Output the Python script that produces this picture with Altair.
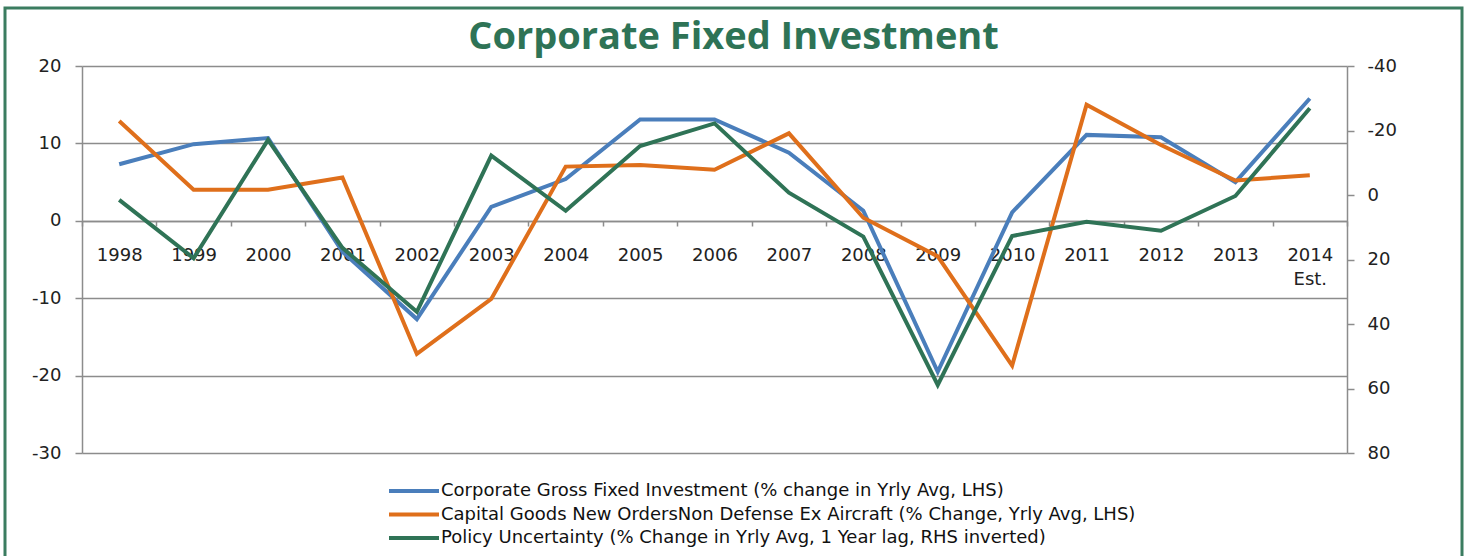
import altair as alt
import pandas as pd

years = [str(y) for y in range(1998, 2015)]
corp_gfi = [7.3, 9.9, 10.7, -4.0, -12.7, 1.8, 5.4, 13.1, 13.1, 8.8, 1.3, -19.5, 1.1, 11.1, 10.8, 5.0, 15.8]
cap_goods = [12.9, 4.0, 4.0, 5.6, -17.2, -10.1, 7.0, 7.2, 6.6, 11.3, 0.4, -4.6, -18.7, 15.0, 9.8, 5.2, 5.9]
policy_unc = [1.5, 19.6, -17.1, 16.4, 36.2, -12.2, 4.9, -15.2, -22.2, -0.7, 12.9, 58.9, 12.7, 8.3, 11.1, 0.3, -26.9]

names = [
    "Corporate Gross Fixed Investment  (% change in Yrly Avg, LHS)",
    "Capital Goods New OrdersNon Defense Ex Aircraft (% Change, Yrly Avg, LHS)",
    "Policy Uncertainty (% Change  in Yrly Avg, 1 Year lag, RHS inverted)",
]
colors = ["#4a7ebb", "#df6f1b", "#2f7356"]
left_ticks = [-30, -20, -10, 0, 10, 20]
right_ticks = [-40, -20, 0, 20, 40, 60, 80]

df_left = pd.DataFrame({
    "year": years * 2,
    "value": corp_gfi + cap_goods,
    "series": [names[0]] * len(years) + [names[1]] * len(years),
    "order": [0] * len(years) + [1] * len(years),
})
df_right = pd.DataFrame({"year": years, "value": policy_unc, "series": [names[2]] * len(years)})

axis_color = "#8c8c8c"

x_axis = alt.Axis(
    title=None, labelAngle=0, orient="bottom", offset=-232, tickBand="extent",
    tickSize=5, labelPadding=20, labelBaseline="top", labelLineHeight=24,
    labelExpr="datum.value == '2014' ? ['2014', 'Est.'] : datum.label",
    grid=False,
)
x_enc = alt.X("year:O", sort=years, bandPosition=0.5,
              scale=alt.Scale(type="band", paddingInner=0, paddingOuter=0), axis=x_axis)

color_enc = alt.Color(
    "series:N",
    scale=alt.Scale(domain=names, range=colors),
    legend=alt.Legend(
        orient="none", legendX=322, legendY=415, title=None, direction="vertical",
        symbolType="M-3.125,0H3.125", symbolSize=256, symbolStrokeWidth=4,
        labelFont="DejaVu Sans", labelFontSize=18, labelColor="#111", labelLimit=1200,
        labelOffset=17, rowPadding=4.5, padding=0,
    ),
)

left = alt.Chart(df_left).mark_line(strokeWidth=4).encode(
    x=x_enc,
    y=alt.Y("value:Q", scale=alt.Scale(domain=[-30, 20], nice=False, zero=False),
            axis=alt.Axis(title=None, orient="left", values=left_ticks, grid=True,
                          tickSize=7, labelPadding=14, labelExpr="toString(datum.value)")),
    color=color_enc,
    detail="series:N",
    order="order:Q",
)

right = alt.Chart(df_right).mark_line(strokeWidth=4).encode(
    x=x_enc,
    y=alt.Y("value:Q", scale=alt.Scale(domain=[-40, 80], nice=False, zero=False, reverse=True),
            axis=alt.Axis(title=None, orient="right", values=right_ticks, grid=False,
                          tickSize=7, labelPadding=13, labelExpr="toString(datum.value)")),
    color=color_enc,
)

frame = alt.Chart(pd.DataFrame({"a": [0]})).mark_rect(
    filled=False, stroke="#3b7c60", strokeWidth=3, clip=False
).encode(x=alt.value(-77), x2=alt.value(1380), y=alt.value(-58), y2=alt.value(560))

chart = alt.layer(left, right, frame).resolve_scale(y="independent").properties(
    width=1265, height=387,
    title=alt.TitleParams("Corporate Fixed Investment", font="Open Sans", fontSize=38,
                          fontWeight="bold", color="#2e7356", anchor="middle", dx=19,
                          baseline="alphabetic", offset=-80),
    autosize=alt.AutoSizeParams(type="none"),
    padding={"left": 82, "top": 66, "right": 120, "bottom": 103},
    background="white",
).configure_view(stroke=None).configure_axis(
    labelFont="DejaVu Sans", labelFontSize=18, labelColor="#222",
    domainColor=axis_color, tickColor=axis_color, gridColor=axis_color,
    domainWidth=1.5, gridWidth=1.5, tickWidth=1.5,
)

chart.save("out.html", embed_options={"renderer": "svg", "actions": False})
